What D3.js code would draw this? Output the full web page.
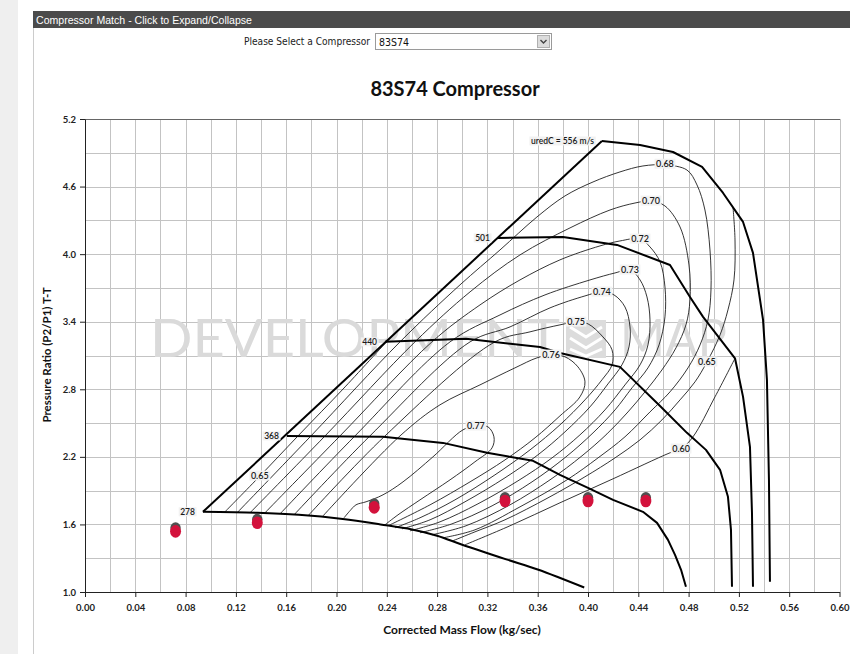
<!DOCTYPE html>
<html><head><meta charset="utf-8">
<script src="https://cdn.jsdelivr.net/npm/d3@7"></script>
<style>html,body{margin:0;padding:0;background:#fff;}svg{display:block;}</style>
</head><body>
<script>
// ---------------- DATA ----------------
const headerText = "Compressor Match - Click to Expand/Collapse";
const selectLabel = "Please Select a Compressor";
const selectValue = "83S74";
const chartTitle = "83S74 Compressor";
const xTitle = "Corrected Mass Flow (kg/sec)";
const yTitle = "Pressure Ratio (P2/P1) T-T";
const xTicks = [0.00,0.04,0.08,0.12,0.16,0.20,0.24,0.28,0.32,0.36,0.40,0.44,0.48,0.52,0.56,0.60];
const yTicks = [1.0,1.6,2.2,2.8,3.4,4.0,4.6,5.2];

const surgeLine = [[0.0938,1.712],[0.4111,5.005]];
const speedNames = ["278","368","440","501","uredC = 556 m/s"];
const speed278 = [[0.0938,1.712],[0.137,1.703],[0.170,1.685],[0.205,1.648],[0.235,1.600],[0.260,1.555],[0.280,1.500],[0.300,1.420],[0.335,1.290],[0.360,1.200],[0.397,1.040]];
const speed368 = [[0.1606,2.386],[0.2370,2.378],[0.2847,2.324],[0.3197,2.236],[0.3563,2.165],[0.3777,2.040],[0.4000,1.925],[0.4199,1.818],[0.4437,1.712],[0.4549,1.614],[0.4636,1.463],[0.4692,1.330],[0.4740,1.197],[0.4779,1.046]];
const speed440 = [[0.2386,3.221],[0.3030,3.248],[0.3618,3.176],[0.3777,3.123],[0.4254,2.999],[0.4573,2.652],[0.4787,2.413],[0.4938,2.262],[0.5050,2.085],[0.5113,1.845],[0.5137,1.552],[0.5145,1.046]];
const speed501 = [[0.3284,4.144],[0.3801,4.153],[0.4231,4.082],[0.4652,3.904],[0.4811,3.620],[0.4915,3.443],[0.5169,3.075],[0.5233,2.733],[0.5288,2.289],[0.5304,1.703],[0.5312,1.046]];
const speed556 = [[0.4111,5.005],[0.4414,4.969],[0.4676,4.907],[0.4907,4.774],[0.5074,4.543],[0.5233,4.286],[0.5312,4.011],[0.5392,3.416],[0.5423,2.883],[0.5439,1.996],[0.5447,1.091]];

const eff065L = [[0.1113,1.712],[0.1392,2.031],[0.1694,2.386],[0.2068,2.821],[0.2425,3.255]];
const eff068 = [[0.1209,1.703],[0.1797,2.386],[0.2505,3.221],[0.2982,3.727],[0.3300,4.037],[0.3594,4.330],[0.3817,4.517],[0.4040,4.641],[0.4254,4.730],[0.4437,4.783],[0.4612,4.792],[0.4787,4.747],[0.4867,4.614],[0.4930,4.392],[0.4970,4.037],[0.4978,3.682],[0.4954,3.416],[0.4891,3.194],[0.4795,2.990],[0.4652,2.777],[0.4493,2.599],[0.4294,2.378],[0.4080,2.191],[0.3833,1.996],[0.3459,1.756],[0.3101,1.552],[0.2847,1.481]];
const eff070 = [[0.1312,1.703],[0.1909,2.386],[0.2624,3.221],[0.3062,3.665],[0.3459,3.993],[0.3857,4.233],[0.4175,4.392],[0.4374,4.454],[0.4501,4.472],[0.4612,4.428],[0.4732,4.241],[0.4803,3.904],[0.4811,3.594],[0.4779,3.372],[0.4700,3.168],[0.4588,2.972],[0.4453,2.777],[0.4318,2.599],[0.4151,2.404],[0.3952,2.209],[0.3698,1.996],[0.3380,1.774],[0.3030,1.588],[0.2759,1.508]];
const eff072 = [[0.1431,1.703],[0.2028,2.386],[0.2759,3.221],[0.3141,3.549],[0.3459,3.771],[0.3777,3.949],[0.4095,4.073],[0.4254,4.117],[0.4414,4.135],[0.4493,4.064],[0.4573,3.931],[0.4612,3.709],[0.4612,3.443],[0.4565,3.194],[0.4477,2.990],[0.4350,2.813],[0.4215,2.617],[0.4040,2.413],[0.3825,2.200],[0.3555,1.978],[0.3237,1.765],[0.2918,1.605],[0.2664,1.526]];
const eff073 = [[0.1551,1.694],[0.2147,2.386],[0.2903,3.221],[0.3300,3.460],[0.3658,3.638],[0.4016,3.771],[0.4215,3.833],[0.4334,3.860],[0.4414,3.771],[0.4469,3.620],[0.4493,3.416],[0.4477,3.194],[0.4414,3.017],[0.4294,2.839],[0.4135,2.617],[0.3936,2.395],[0.3714,2.191],[0.3443,1.987],[0.3125,1.783],[0.2823,1.623],[0.2584,1.543]];
const eff074 = [[0.1662,1.685],[0.2266,2.386],[0.3062,3.221],[0.3380,3.354],[0.3698,3.523],[0.3976,3.629],[0.4111,3.665],[0.4207,3.638],[0.4294,3.531],[0.4334,3.354],[0.4326,3.176],[0.4270,3.017],[0.4159,2.848],[0.4016,2.644],[0.3817,2.422],[0.3602,2.218],[0.3340,2.014],[0.3022,1.801],[0.2744,1.641],[0.2521,1.561]];
const eff075 = [[0.1773,1.676],[0.2386,2.386],[0.3260,3.221],[0.3539,3.310],[0.3777,3.372],[0.3905,3.398],[0.4000,3.381],[0.4119,3.265],[0.4191,3.150],[0.4191,3.017],[0.4111,2.884],[0.3976,2.706],[0.3777,2.484],[0.3539,2.262],[0.3260,2.040],[0.2942,1.818],[0.2664,1.659],[0.2465,1.570]];
const eff076 = [[0.1893,1.676],[0.2505,2.386],[0.2823,2.662],[0.3141,2.839],[0.3419,2.990],[0.3594,3.079],[0.3706,3.105],[0.3817,3.088],[0.3920,2.999],[0.3976,2.866],[0.3936,2.733],[0.3777,2.564],[0.3579,2.369],[0.3340,2.173],[0.3062,1.978],[0.2744,1.774],[0.2410,1.588]];
const eff077 = [[0.2060,1.659],[0.2107,1.721],[0.2155,1.774],[0.2235,1.801],[0.2370,1.863],[0.2529,1.978],[0.2767,2.200],[0.3006,2.440],[0.3109,2.475],[0.3205,2.466],[0.3252,2.378],[0.3237,2.280],[0.3101,2.156],[0.2903,1.996],[0.2664,1.818],[0.2489,1.685],[0.2386,1.597]];
const eff065R = [[0.5153,4.419],[0.5169,4.126],[0.5161,3.771],[0.5113,3.505],[0.5050,3.283],[0.4946,3.043],[0.4851,2.866],[0.4732,2.706],[0.4588,2.528],[0.4414,2.351],[0.4215,2.191],[0.3976,2.023],[0.3682,1.836],[0.3340,1.641],[0.3101,1.534],[0.2926,1.455]];
const eff060 = [[0.5169,3.075],[0.5010,2.733],[0.4835,2.378],[0.4740,2.271],[0.4652,2.236],[0.4199,2.005],[0.3777,1.792],[0.3380,1.588],[0.3022,1.419]];

const effLabelText = ["0.65","0.68","0.70","0.72","0.73","0.74","0.75","0.76","0.77","0.65","0.60"];
const effLabelFlow = [0.139,0.4612,0.4501,0.4414,0.4334,0.4111,0.3905,0.3706,0.3109,0.4946,0.4740];
const effLabelPR   = [2.031,4.800,4.472,4.135,3.860,3.665,3.398,3.105,2.475,3.043,2.271];

const opFlow = [0.072,0.137,0.230,0.334,0.400,0.446];
const opPR   = [1.543,1.619,1.756,1.812,1.812,1.812];

// ---------------- DRAW ----------------
const W = 868, H = 654;
const FONT = 'Lato, "Open Sans", "Liberation Sans", sans-serif';
const svg = d3.select('body').append('svg').attr('width', W).attr('height', H).style('font-family', FONT);
svg.append('rect').attr('width', W).attr('height', H).attr('fill', '#fff');
svg.append('rect').attr('x', 0).attr('y', 0).attr('width', 18).attr('height', H).attr('fill', '#efefef');
svg.append('line').attr('x1', 33.5).attr('x2', 33.5).attr('y1', 28).attr('y2', H).attr('stroke', '#cccccc');

// header bar
svg.append('rect').attr('x', 33).attr('y', 11).attr('width', 817).attr('height', 17).attr('fill', '#4b4b4b');
svg.append('text').attr('x', 36).attr('y', 23.5).attr('fill', '#fff')
  .style('font-family', '"Liberation Sans Narrow","Liberation Sans",Arial,sans-serif').style('font-size', '11.5px')
  .attr('textLength', 216).attr('lengthAdjust', 'spacingAndGlyphs').text(headerText);

// select
svg.append('text').attr('x', 370).attr('y', 45).attr('text-anchor', 'end').attr('fill', '#222')
  .style('font-family', '"DejaVu Sans Condensed","DejaVu Sans",sans-serif').style('font-size', '10.5px')
  .attr('textLength', 126).attr('lengthAdjust', 'spacingAndGlyphs').text(selectLabel);
svg.append('rect').attr('x', 375.5).attr('y', 33.5).attr('width', 176).attr('height', 16).attr('fill', '#fff').attr('stroke', '#9a9a9a');
svg.append('text').attr('x', 379).attr('y', 45.5).attr('fill', '#111')
  .style('font-family', '"DejaVu Sans Condensed","DejaVu Sans",sans-serif').style('font-size', '10.5px').text(selectValue);
svg.append('rect').attr('x', 537.5).attr('y', 35.5).attr('width', 12).attr('height', 12).attr('fill', '#dcdcdc').attr('stroke', '#b0b0b0');
svg.append('path').attr('d', 'M540.5,40 L543.5,43 L546.5,40').attr('fill', 'none').attr('stroke', '#444').attr('stroke-width', 1.4);

// scales
const x = d3.scaleLinear().domain([0, 0.6]).range([85, 839.5]);
const y = d3.scaleLinear().domain([1.0, 5.2]).range([592, 119]);

// title
svg.append('text').attr('x', 455).attr('y', 96).attr('text-anchor', 'middle').attr('fill', '#111')
  .style('font-size', '20px').style('font-weight', 'bold').text(chartTitle);

// gridlines
const grid = svg.append('g').attr('shape-rendering', 'crispEdges');
d3.range(1, 31).forEach(i => {
  const v = i * 0.02;
  const px = Math.round(x(v)) + 0.5;
  grid.append('line').attr('x1', px).attr('x2', px).attr('y1', y(5.2)).attr('y2', y(1.0)).attr('stroke', '#c3c3c3');
});
d3.range(1, 15).forEach(i => {
  const v = 1.0 + i * 0.3;
  const py = Math.round(y(v)) + 0.5;
  grid.append('line').attr('x1', x(0)).attr('x2', x(0.6)).attr('y1', py).attr('y2', py)
    .attr('stroke', i === 14 ? '#666' : '#c3c3c3');
});

// watermark
const wm = svg.append('g').attr('fill', '#dadada');
wm.append('text').attr('x', 150).attr('y', 357).style('font-size', '52px').style('font-weight', 400)
  .attr('textLength', 410).attr('lengthAdjust', 'spacingAndGlyphs').text('DEVELOPMENT');
wm.append('text').attr('x', 620).attr('y', 357).style('font-size', '52px').style('font-weight', 400)
  .attr('textLength', 107).attr('lengthAdjust', 'spacingAndGlyphs').text('MAP');
wm.append('path').attr('d', 'M566,320 L606,320 L606,358 L566,358 Z').attr('fill', '#dcdcdc');
wm.append('path').attr('d', 'M570,327 L586,337 L602,327 M570,338 L586,348 L602,338 M570,349 L586,356 L602,349')
  .attr('fill', 'none').attr('stroke', '#fff').attr('stroke-width', 3);

// axes
const yAxis = svg.append('g').attr('transform', 'translate(85,0)')
  .call(d3.axisLeft(y).tickValues(yTicks).tickFormat(d3.format('.1f')).tickSize(5).tickSizeOuter(0).tickPadding(4));
const xAxis = svg.append('g').attr('transform', 'translate(0,592)')
  .call(d3.axisBottom(x).tickValues(xTicks).tickFormat(d3.format('.2f')).tickSize(5).tickSizeOuter(0).tickPadding(7));
[xAxis, yAxis].forEach(a => {
  a.selectAll('path.domain').attr('stroke', '#222');
  a.selectAll('line').attr('stroke', '#222');
  a.selectAll('text').attr('fill', '#222').style('font-family', FONT).style('font-size', '9.5px').style('font-weight', 'bold');
});

svg.append('text').attr('x', 462).attr('y', 634).attr('text-anchor', 'middle').attr('fill', '#111')
  .style('font-size', '12px').style('font-weight', 'bold').text(xTitle);
svg.append('text').attr('transform', 'translate(51,355) rotate(-90)').attr('text-anchor', 'middle').attr('fill', '#111')
  .style('font-size', '11.5px').style('font-weight', 'bold').text(yTitle);

// curves
const smooth = d3.line().x(d => x(d[0])).y(d => y(d[1])).curve(d3.curveCatmullRom.alpha(0.5));
const straight = d3.line().x(d => x(d[0])).y(d => y(d[1]));
const effCurves = [eff065L, eff068, eff070, eff072, eff073, eff074, eff075, eff076, eff077, eff065R, eff060];
const cg = svg.append('g').attr('fill', 'none').attr('stroke', '#1e1e1e').attr('stroke-width', 0.9);
effCurves.forEach(c => cg.append('path').attr('d', smooth(c)));

// operating points
const pg = svg.append('g');
opFlow.forEach((f, i) => {
  pg.append('ellipse').attr('cx', x(f)).attr('cy', y(opPR[i]) - 3).attr('rx', 5.2).attr('ry', 5.5).attr('fill', '#505050');
  pg.append('ellipse').attr('cx', x(f)).attr('cy', y(opPR[i]) + 0.5).attr('rx', 5.5).attr('ry', 6.3).attr('fill', '#d3123c');
});

// speed lines + surge
const sg = svg.append('g').attr('fill', 'none').attr('stroke', '#000').attr('stroke-width', 2).attr('stroke-linejoin', 'round');
sg.append('path').attr('d', straight(surgeLine));
sg.append('path').attr('d', smooth(speed278));
[speed368, speed440, speed501, speed556].forEach(s => sg.append('path').attr('d', straight(s)));

// labels with background
function bgLabel(g, txt, px, py, anchor, size, weight) {
  const grp = g.append('g');
  const r = grp.append('rect').attr('fill', '#f2f2f2');
  const t = grp.append('text').attr('x', px).attr('y', py).attr('dy', '0.35em').attr('text-anchor', anchor)
    .attr('fill', '#1a1a1a').style('font-size', size + 'px').style('font-weight', weight).text(txt);
  const b = t.node().getBBox();
  r.attr('x', b.x - 1.5).attr('y', b.y + 0.5).attr('width', b.width + 3).attr('height', b.height - 1);
}
const lg = svg.append('g');
const speedCurves = [speed278, speed368, speed440, speed501, speed556];
speedCurves.forEach((s, i) => bgLabel(lg, speedNames[i], x(s[0][0]) - 8, y(s[0][1]), 'end', 8.5, 600));
effLabelText.forEach((t, i) => bgLabel(lg, t, x(effLabelFlow[i]), y(effLabelPR[i]), 'middle', 9, 600));
</script>
</body></html>
